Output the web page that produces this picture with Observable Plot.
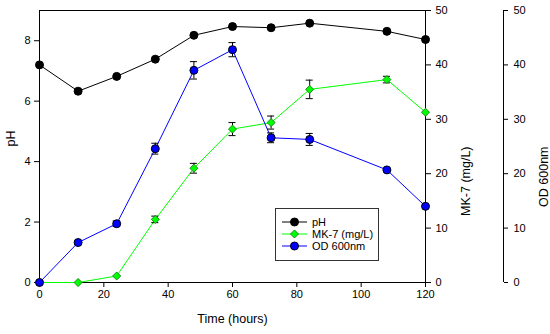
<!DOCTYPE html>
<html>
<head>
<meta charset="utf-8">
<script src="https://cdn.jsdelivr.net/npm/d3@7"></script>
<script src="https://cdn.jsdelivr.net/npm/@observablehq/plot@0.6"></script>
<style>
  body { margin: 0; background: #fff; }
  #wrap { position: relative; width: 550px; height: 334px; font-family: "Liberation Sans", Arial, sans-serif; }
  #legend { position: absolute; left: 275px; top: 208px; }
</style>
</head>
<body>
<div id="wrap"></div>
<script>
const hours = [0, 12, 24, 36, 48, 60, 72, 84, 108, 120];
const pH    = [7.2, 6.33, 6.82, 7.39, 8.18, 8.47, 8.43, 8.58, 8.31, 8.04];
const mk7    = [0, 0, 1.2, 11.6, 21.0, 28.2, 29.4, 35.5, 37.3, 31.3];
const mk7Err = [0, 0, 0, 0.6, 0.9, 1.2, 1.2, 1.7, 0.6, 0];
const od     = [0, 7.35, 10.8, 24.6, 39.0, 42.8, 26.6, 26.3, 20.7, 14.0];
const odErr  = [0, 0.3, 0.5, 1.0, 1.6, 1.3, 0.9, 1.1, 0, 0];
const pHTicks = [0, 2, 4, 6, 8];
const rightTicks = [0, 10, 20, 30, 40, 50];
const xTicks = [0, 20, 40, 60, 80, 100, 120];
const seriesNames = ["pH", "MK-7 (mg/L)", "OD 600nm"];

const pHMax = 9, rMax = 50;
const toR = p => p * rMax / pHMax;

const phData = hours.map((t, i) => ({t, v: toR(pH[i])}));
const mkData = hours.map((t, i) => ({t, v: mk7[i], e: mk7Err[i]}));
const odData = hours.map((t, i) => ({t, v: od[i], e: odErr[i]}));
const capHalf = 1.1;
const errs = [...mkData, ...odData].filter(d => d.e > 0);

const chart = Plot.plot({
  width: 550,
  height: 334,
  marginLeft: 39,
  marginRight: 125,
  marginTop: 10,
  marginBottom: 52,
  style: {fontFamily: "Liberation Sans, Arial, sans-serif", fontSize: "11px", color: "#000", background: "#fff", overflow: "visible"},
  x: {domain: [0, 120]},
  y: {domain: [0, rMax]},
  marks: [
    Plot.frame({stroke: "#000"}),
    Plot.axisX({ticks: xTicks, tickSize: 5, tickPadding: 3, label: null, tickFormat: d => d}),
    Plot.axisY({anchor: "left", ticks: pHTicks.map(toR), tickFormat: d => Math.round(d * pHMax / rMax), tickSize: 5, tickPadding: 4, label: null}),
    Plot.axisY({anchor: "right", ticks: rightTicks, tickSize: 5, tickPadding: 5, label: null}),
    Plot.axisY({anchor: "right", ticks: rightTicks, tickSize: 4, tickPadding: 6, label: null, dx: 78}),
    Plot.ruleX([120], {dx: 78, stroke: "#000"}),
    Plot.text(["pH"], {frameAnchor: "left", dx: -29, rotate: -90, fontSize: 12.5}),
    Plot.text(["MK-7 (mg/L)"], {frameAnchor: "right", dx: 40, rotate: -90, fontSize: 12.5}),
    Plot.text(["OD 600nm"], {frameAnchor: "right", dx: 118, rotate: -90, fontSize: 12.5}),
    Plot.text(["Time (hours)"], {frameAnchor: "bottom", dy: 40, fontSize: 12.5}),
    Plot.line(phData, {x: "t", y: "v", stroke: "#000", strokeWidth: 1}),
    Plot.line(mkData, {x: "t", y: "v", stroke: "#00ff00", strokeWidth: 1}),
    Plot.line(odData, {x: "t", y: "v", stroke: "#0000ff", strokeWidth: 1}),
    Plot.ruleX(errs, {x: "t", y1: d => d.v - d.e, y2: d => d.v + d.e, stroke: "#000", strokeWidth: 1}),
    Plot.ruleY(errs, {y: d => d.v - d.e, x1: d => d.t - capHalf, x2: d => d.t + capHalf, stroke: "#000", strokeWidth: 1}),
    Plot.ruleY(errs, {y: d => d.v + d.e, x1: d => d.t - capHalf, x2: d => d.t + capHalf, stroke: "#000", strokeWidth: 1}),
    Plot.dot(phData, {x: "t", y: "v", r: 4, fill: "#000", stroke: "#000", strokeWidth: 1}),
    Plot.dot(mkData, {x: "t", y: "v", r: 3.6, symbol: "diamond2", fill: "#00ff00", stroke: "#1a8a1a", strokeWidth: 1}),
    Plot.dot(odData, {x: "t", y: "v", r: 4, fill: "#0000ff", stroke: "#000", strokeWidth: 1})
  ]
});

const wrap = document.getElementById("wrap");
wrap.appendChild(chart);

// Legend
const legendColors = [
  {line: "#000", fill: "#000", stroke: "#000", sym: "circle"},
  {line: "#00ff00", fill: "#00ff00", stroke: "#1a8a1a", sym: "diamond"},
  {line: "#0000ff", fill: "#0000ff", stroke: "#000", sym: "circle"}
];
const ns = "http://www.w3.org/2000/svg";
const lg = document.createElementNS(ns, "svg");
lg.setAttribute("id", "legend");
lg.setAttribute("width", 105);
lg.setAttribute("height", 54);
lg.style.position = "absolute";
lg.style.left = "275px";
lg.style.top = "208px";
const box = document.createElementNS(ns, "rect");
box.setAttribute("x", 0.5); box.setAttribute("y", 0.5);
box.setAttribute("width", 103); box.setAttribute("height", 52);
box.setAttribute("fill", "#fff"); box.setAttribute("stroke", "#333");
lg.appendChild(box);
seriesNames.forEach((name, i) => {
  const cy = 14 + i * 12;
  const c = legendColors[i];
  const ln = document.createElementNS(ns, "line");
  ln.setAttribute("x1", 7); ln.setAttribute("x2", 32);
  ln.setAttribute("y1", cy); ln.setAttribute("y2", cy);
  ln.setAttribute("stroke", c.line);
  lg.appendChild(ln);
  let m;
  if (c.sym === "circle") {
    m = document.createElementNS(ns, "circle");
    m.setAttribute("cx", 19.5); m.setAttribute("cy", cy); m.setAttribute("r", 4);
  } else {
    m = document.createElementNS(ns, "path");
    m.setAttribute("d", `M19.5,${cy-4}L23.5,${cy}L19.5,${cy+4}L15.5,${cy}Z`);
  }
  m.setAttribute("fill", c.fill); m.setAttribute("stroke", c.stroke);
  lg.appendChild(m);
  const tx = document.createElementNS(ns, "text");
  tx.setAttribute("x", 37); tx.setAttribute("y", cy);
  tx.setAttribute("dy", "0.35em");
  tx.setAttribute("font-size", "11px");
  tx.setAttribute("font-family", "Liberation Sans, Arial, sans-serif");
  tx.textContent = name;
  lg.appendChild(tx);
});
wrap.appendChild(lg);
</script>
</body>
</html>
